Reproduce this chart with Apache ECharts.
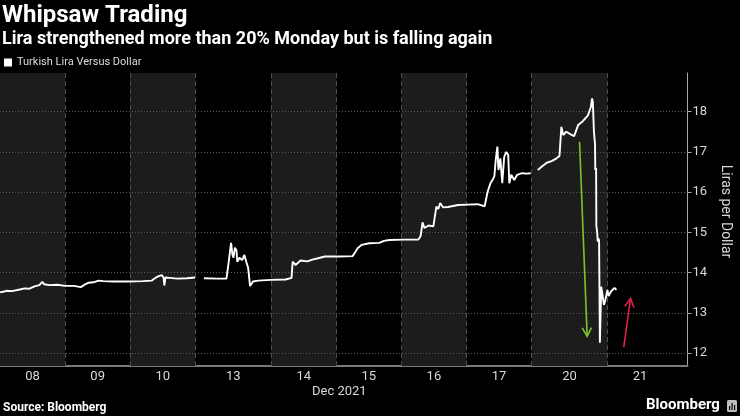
<!DOCTYPE html>
<html><head><meta charset="utf-8">
<script src="https://cdn.jsdelivr.net/npm/echarts@6/dist/echarts.min.js"></script>
<style>html,body{margin:0;padding:0;background:#000;}#c{width:740px;height:416px;}</style>
</head><body><div id="c"></div>
<script>
// ---- text ----
const titleText = 'Whipsaw Trading';
const subtitleText = 'Lira strengthened more than 20% Monday but is falling again';
const seriesName = 'Turkish Lira Versus Dollar';
const yAxisName = 'Liras per Dollar';
const monthLabel = 'Dec 2021';
const sourceText = 'Source: Bloomberg';
const brandText = 'Bloomberg';

// ---- x axis: trading days (continuous trading-hour scale, weekends removed) ----
const dayLabels = ['08', '09', '10', '13', '14', '15', '16', '17', '20', '21'];
const dayBounds = [0, 24, 48, 72, 100, 124, 148, 172, 196, 224, 248];
const shadedDays = ['08', '10', '14', '16', '20'];
const xMax = 253.5;

// ---- y axis ----
const yTicks = [12, 13, 14, 15, 16, 17, 18];
const yMinorTicks = [12.5, 13.5, 14.5, 15.5, 16.5, 17.5, 18.5];
const yMin = 11.68, yMax = 18.96;

// ---- series: USD/TRY (hours since start of Dec 8 session), null = gap ----
const hours = [
  0.0, 1.5, 2.5, 4.4, 7.3, 9.1, 10.9, 12.7, 14.5, 15.6, 16.3, 18.2, 21.1, 24.0, 27.2, 29.8, 31.2, 32.7, 34.5, 36.3,
  38.1, 41.8, 47.2, 52.7, 55.9, 56.7, 58.1, 59.6, 60.3, 60.6, 61.0, 62.5, 65.4, 69.0, 71.9,
  73.5,
  75.2, 79.9, 83.5, 84.3, 85.2, 85.7, 86.1, 86.6, 87.2, 87.5, 88.3, 89.3, 90.1, 90.8, 91.5, 92.2, 93.3, 95.2, 99.9,
  105.3, 107.5, 107.9, 109.0, 110.8, 113.3, 115.5, 116.9, 119.8, 125.3, 130.0, 131.1, 131.8, 133.3, 136.2, 139.8,
  141.6, 143.5, 148.9, 154.3, 155.1, 155.8, 156.5, 158.0, 159.8, 160.9, 161.6, 162.3, 163.4, 165.2, 168.9, 172.5,
  176.1, 178.7, 179.8, 180.9, 181.6, 182.3, 182.8, 183.4, 183.8, 184.5, 185.2, 185.9, 186.7, 187.4, 187.8, 188.5,
  189.6, 190.7, 192.5, 194.3, 195.7,
  197.0,
  198.3, 199.7, 201.6, 203.4, 205.2, 206.3, 207.0, 207.7, 208.8, 210.6, 211.7, 213.2, 215.0, 216.8, 217.9, 218.3,
  218.6, 219.0, 219.4, 219.5, 219.8, 219.9, 220.2, 220.4, 220.6, 220.9, 221.2, 221.7, 222.2, 222.7, 223.2, 224.0,
  224.4, 225.2, 225.8, 226.6, 227.3
];
const lira = [
  13.51, 13.53, 13.55, 13.54, 13.58, 13.61, 13.60, 13.66, 13.69, 13.77, 13.71, 13.69, 13.70, 13.67, 13.67, 13.64, 13.70, 13.75, 13.76, 13.80,
  13.79, 13.78, 13.78, 13.79, 13.80, 13.84, 13.90, 13.94, 13.88, 13.68, 13.88, 13.87, 13.85, 13.86, 13.88,
  null,
  13.86, 13.85, 13.85, 14.25, 14.74, 14.45, 14.37, 14.62, 14.55, 14.27, 14.37, 14.31, 14.44, 14.27, 14.12, 13.67, 13.78, 13.80, 13.82,
  13.83, 13.87, 14.27, 14.19, 14.30, 14.28, 14.33, 14.35, 14.40, 14.40, 14.41, 14.52, 14.60, 14.69, 14.73, 14.74,
  14.79, 14.81, 14.82, 14.82, 14.91, 15.25, 15.11, 15.17, 15.15, 15.64, 15.58, 15.73, 15.62, 15.63, 15.68, 15.69,
  15.70, 15.65, 16.01, 16.23, 16.30, 16.40, 16.80, 17.13, 16.55, 16.84, 16.22, 16.87, 17.00, 16.92, 16.22, 16.43,
  16.30, 16.43, 16.47, 16.46, 16.47,
  null,
  16.55, 16.63, 16.73, 16.77, 16.84, 16.90, 17.62, 17.42, 17.50, 17.43, 17.39, 17.67, 17.77, 17.91, 18.12, 18.33,
  18.24, 17.50, 17.20, 16.55, 16.60, 15.16, 15.00, 14.77, 14.85, 14.80, 12.26, 13.65, 13.42, 13.20, 13.32, 13.57,
  13.42, 13.52, 13.57, 13.62, 13.57
];

// ---- annotation arrows: [x from, y from, x to, y to] in axis units ----
const greenArrow = [213.7, 17.25, 216.5, 12.42];
const redArrow = [230.0, 12.15, 232.5, 13.36];

// ---- build ----
const lineData = hours.map((h, i) => [h, lira[i] === null ? '-' : lira[i]]);
const dayCenters = dayLabels.map((d, i) => (dayBounds[i] + dayBounds[i + 1]) / 2);
const bandData = shadedDays.map(d => {
  const i = dayLabels.indexOf(d);
  return [{ xAxis: dayBounds[i] }, { xAxis: dayBounds[i + 1] }];
});
const dayLines = dayBounds.slice(1, dayBounds.length - 1).map(b => ({ xAxis: b }));
const gridLines = yTicks.map(t => ({ yAxis: t }));

function arrowRenderer(color) {
  return function (params, api) {
    const p1 = api.coord([api.value(0), api.value(1)]);
    const p2 = api.coord([api.value(2), api.value(3)]);
    const dx = p2[0] - p1[0], dy = p2[1] - p1[1];
    const len = Math.hypot(dx, dy), ux = dx / len, uy = dy / len;
    const hl = 8.5, hw = 4.6;
    const w1 = [p2[0] - ux * hl - uy * hw, p2[1] - uy * hl + ux * hw];
    const w2 = [p2[0] - ux * hl + uy * hw, p2[1] - uy * hl - ux * hw];
    return {
      type: 'group', children: [
        { type: 'line', shape: { x1: p1[0], y1: p1[1], x2: p2[0], y2: p2[1] }, style: { stroke: color, lineWidth: 1.6 } },
        { type: 'polyline', shape: { points: [w1, p2, w2] }, style: { stroke: color, fill: null, lineWidth: 1.6 } }
      ]
    };
  };
}

const FONT = 'Roboto';
const chart = echarts.init(document.getElementById('c'), null, { renderer: 'canvas' });
chart.setOption({
  backgroundColor: '#000',
  animation: false,
  textStyle: { fontFamily: FONT },
  title: [
    { text: titleText, left: 2, top: 4, padding: 0, textStyle: { color: '#fff', fontSize: 24, fontWeight: 'bold', fontFamily: FONT } },
    { text: subtitleText, left: 2, top: 30, padding: 0, textStyle: { color: '#fff', fontSize: 18, fontWeight: 'bold', fontFamily: FONT } },
    { text: monthLabel, left: 312, top: 385, padding: 0, textStyle: { color: '#d8d8d8', fontSize: 13, fontWeight: 'normal', fontFamily: FONT } },
    { text: sourceText, left: 3, top: 402, padding: 0, textStyle: { color: '#fff', fontSize: 12, fontWeight: 'bold', fontFamily: FONT } },
    { text: brandText, left: 646, top: 398, padding: 0, textStyle: { color: '#fff', fontSize: 15, fontWeight: 'bold', fontFamily: FONT } }
  ],
  legend: {
    data: [seriesName], left: 4, top: 57, padding: 0, icon: 'rect', itemWidth: 8, itemHeight: 8,
    textStyle: { color: '#dcdcdc', fontSize: 11, fontFamily: FONT }
  },
  graphic: [
    { type: 'rect', left: 727, top: 400, shape: { width: 10, height: 12, r: 1.5 }, style: { fill: '#bdbdbd' } },
    { type: 'rect', left: 729, top: 406, shape: { width: 1.2, height: 4 }, style: { fill: '#000' } },
    { type: 'rect', left: 731.5, top: 403, shape: { width: 1.2, height: 7 }, style: { fill: '#000' } },
    { type: 'rect', left: 734, top: 405, shape: { width: 1.2, height: 5 }, style: { fill: '#000' } }
  ],
  grid: { left: 0, right: 42, top: 73, bottom: 50, containLabel: false },
  xAxis: {
    type: 'value', min: 0, max: xMax,
    axisLine: { show: true, onZero: false, lineStyle: { color: '#7a7a7a', width: 2 } },
    axisTick: { show: false },
    splitLine: { show: false },
    axisLabel: {
      customValues: dayCenters, margin: 4, color: '#d8d8d8', fontSize: 13, fontFamily: FONT,
      formatter: v => { const i = dayCenters.indexOf(v); return i >= 0 ? dayLabels[i] : ''; }
    }
  },
  yAxis: [
    {
      type: 'value', position: 'right', min: yMin, max: yMax,
      name: yAxisName, nameLocation: 'middle', nameRotate: -90, nameGap: 25,
      nameTextStyle: { color: '#d8d8d8', fontSize: 14, fontFamily: FONT, padding: [0, 16, 0, 0] },
      axisLine: { show: true, onZero: false, lineStyle: { color: '#a8a8a8', width: 1 } },
      axisTick: { show: true, customValues: yTicks, length: 4, lineStyle: { color: '#a8a8a8' } },
      axisLabel: { customValues: yTicks, margin: 5, color: '#d8d8d8', fontSize: 13, fontFamily: FONT },
      splitLine: { show: false }
    },
    {
      type: 'value', position: 'right', min: yMin, max: yMax,
      axisLine: { show: false },
      axisTick: { show: true, customValues: yMinorTicks, length: 2, lineStyle: { color: '#a8a8a8' } },
      axisLabel: { show: false },
      splitLine: { show: false }
    }
  ],
  series: [
    {
      type: 'line', data: [], z: 1, silent: true,
      markArea: { silent: true, itemStyle: { color: '#1c1c1c' }, label: { show: false }, data: bandData }
    },
    {
      type: 'line', data: [], z: 2, silent: true,
      markLine: {
        silent: true, symbol: ['none', 'none'], label: { show: false }, animation: false,
        data: dayLines, lineStyle: { color: '#4e4e4e', type: [5, 3], width: 1 }
      }
    },
    {
      type: 'line', data: [], z: 2, silent: true,
      markLine: {
        silent: true, symbol: ['none', 'none'], label: { show: false }, animation: false,
        data: gridLines, lineStyle: { color: '#5a5a5a', type: [1, 2], width: 1 }
      }
    },
    {
      name: seriesName, type: 'line', data: lineData, z: 5,
      showSymbol: false, symbol: 'none', connectNulls: false,
      lineStyle: { color: '#ffffff', width: 1.9 }, itemStyle: { color: '#ffffff' }
    },
    { type: 'custom', z: 6, silent: true, renderItem: arrowRenderer('#7cc42a'), data: [greenArrow] },
    { type: 'custom', z: 6, silent: true, renderItem: arrowRenderer('#e0204a'), data: [redArrow] }
  ]
});
</script>
</body></html>
